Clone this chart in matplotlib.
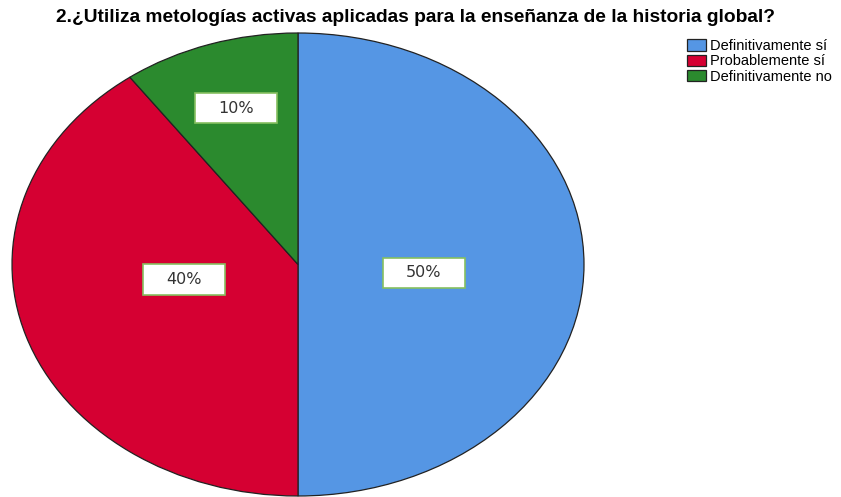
import numpy as np
import matplotlib.pyplot as plt
from matplotlib.patches import Rectangle

plt.rcParams['font.family'] = ['Liberation Sans', 'DejaVu Sans']

categories = ["Definitivamente sí", "Probablemente sí", "Definitivamente no"]
values = [50, 40, 10]
pct_labels = ["50%", "40%", "10%"]
colors = ["#5596e4", "#d50032", "#2b8a2e"]
# radial distance and small vertical nudge for each percentage box
label_dist = [0.44, 0.42, 0.70]
label_dy = [-0.035, 0.065, 0.01]

fig = plt.figure(figsize=(8.41, 4.97), dpi=100)
ax = fig.add_axes([12 / 841, 1 / 497, 572 / 841, 463 / 497])

wedges, _ = ax.pie(values, colors=colors, startangle=90, counterclock=False,
                   wedgeprops=dict(edgecolor="#222222", linewidth=0.9))
ax.set_aspect('auto')
ax.set_xlim(-1, 1)
ax.set_ylim(-1, 1)

# percentage boxes
for w, lab, d, dy in zip(wedges, pct_labels, label_dist, label_dy):
    ang = np.deg2rad((w.theta1 + w.theta2) / 2)
    x, y = d * np.cos(ang), d * np.sin(ang) + dy
    bw, bh = 0.287, 0.13
    ax.add_patch(Rectangle((x - bw / 2, y - bh / 2), bw, bh, facecolor="white",
                           edgecolor="#86c060", linewidth=1.2, zorder=5))
    ax.text(x, y, lab, ha='center', va='center', fontsize=11.5,
            family=['DejaVu Sans'], color="#333333", zorder=6)

fig.text(416 / 841, 1 - 18 / 497,
         "2.¿Utiliza metologías activas aplicadas para la enseñanza de la historia global?",
         ha='center', va='center', fontsize=13.8, fontweight='bold')

fig.legend(wedges, categories, loc='upper left', bbox_to_anchor=(687 / 841, 1 - 39 / 497),
           frameon=False, fontsize=10.5, handlelength=1.3, handleheight=0.8,
           handletextpad=0.25, labelspacing=0.1, borderpad=0, borderaxespad=0)

plt.savefig("out.png", dpi=100)
